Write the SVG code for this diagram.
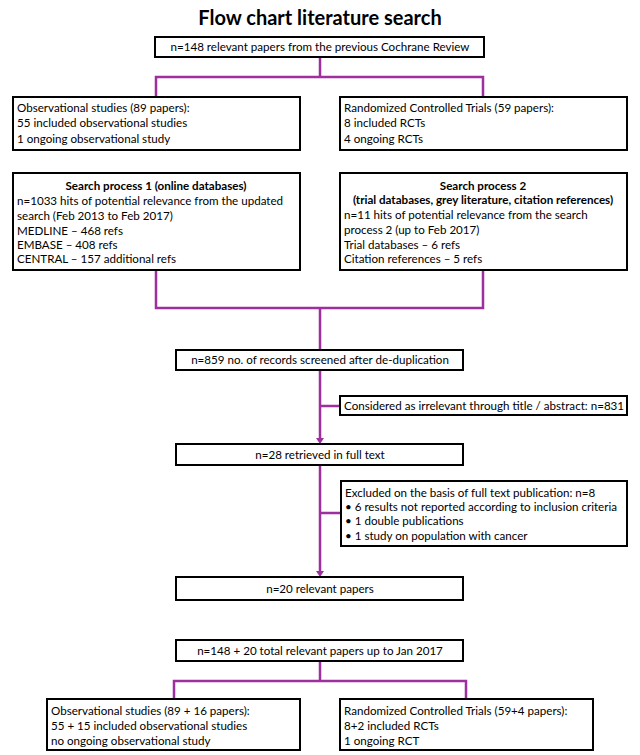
<svg xmlns="http://www.w3.org/2000/svg" width="640" height="755" viewBox="0 0 640 755">
<style>
.box{fill:#fff;stroke:#000;stroke-width:2}
.t{font-family:Lato,"Liberation Sans",sans-serif;font-size:11.6px;fill:#000}
.c{text-anchor:middle}
.b{font-weight:bold}
.ln{fill:none;stroke:#9e2f9e;stroke-width:2.5}
.ah{fill:#9e2f9e}
</style>
<rect width="640" height="755" fill="#fff"/>
<text x="320" y="25" class="t c b" style="font-size:20px">Flow chart literature search</text>
<g id="connectors">
<path class="ln" d="M320,57 V77 M156,97 V77 H483 V97"/>
<path class="ln" d="M156,270 V308 H483 V270 M320,308 V350"/>
<path class="ln" d="M320,370 V440 M320,406 H340"/>
<path class="ln" d="M320,465 V573 M320,513 H341"/>
<path class="ln" d="M320,661 V681 M174,699 V681 H466 V699"/>
<path class="ah" d="M316,438 L324,438 L320,444 z"/>
<path class="ah" d="M316,571 L324,571 L320,577 z"/>
</g>
<g id="n1">
<rect class="box" x="155" y="37" width="329" height="20"/>
<text x="320" y="51" class="t c">n=148 relevant papers from the previous Cochrane Review</text>
</g>
<g id="n2">
<rect class="box" x="13" y="97" width="287" height="53"/>
<text class="t" x="17" y="112">Observational studies (89 papers):</text>
<text class="t" x="17" y="127">55 included observational studies</text>
<text class="t" x="17" y="143">1 ongoing observational study</text>
</g>
<g id="n3">
<rect class="box" x="340" y="97" width="287" height="53"/>
<text class="t" x="344" y="112">Randomized Controlled Trials (59 papers):</text>
<text class="t" x="344" y="127">8 included RCTs</text>
<text class="t" x="344" y="143">4 ongoing RCTs</text>
</g>
<g id="n4">
<rect class="box" x="13" y="173" width="287" height="97"/>
<text class="t c b" x="156" y="190">Search process 1 (online databases)</text>
<text class="t" x="17" y="205">n=1033 hits of potential relevance from the updated</text>
<text class="t" x="17" y="220">search (Feb 2013 to Feb 2017)</text>
<text class="t" x="17" y="235">MEDLINE – 468 refs</text>
<text class="t" x="17" y="249">EMBASE – 408 refs</text>
<text class="t" x="17" y="263">CENTRAL – 157 additional refs</text>
</g>
<g id="n5">
<rect class="box" x="340" y="173" width="287" height="97"/>
<text class="t c b" x="483" y="190">Search process 2</text>
<text class="t c b" x="483" y="204">(trial databases, grey literature, citation references)</text>
<text class="t" x="344" y="219">n=11 hits of potential relevance from the search</text>
<text class="t" x="344" y="234">process 2 (up to Feb 2017)</text>
<text class="t" x="344" y="249">Trial databases – 6 refs</text>
<text class="t" x="344" y="263">Citation references – 5 refs</text>
</g>
<g id="n6">
<rect class="box" x="176" y="350" width="287" height="20"/>
<text class="t c" x="320" y="364">n=859 no. of records screened after de-duplication</text>
</g>
<g id="n7">
<rect class="box" x="340" y="396" width="287" height="19"/>
<text class="t" x="344" y="410">Considered as irrelevant through title / abstract: n=831</text>
</g>
<g id="n8">
<rect class="box" x="176" y="444" width="287" height="21"/>
<text class="t c" x="320" y="459">n=28 retrieved in full text</text>
</g>
<g id="n9">
<rect class="box" x="341" y="481" width="286" height="65"/>
<text class="t" x="345" y="497">Excluded on the basis of full text publication: n=8</text>
<text class="t" x="345" y="511">• 6 results not reported according to inclusion criteria</text>
<text class="t" x="345" y="525">• 1 double publications</text>
<text class="t" x="345" y="540">• 1 study on population with cancer</text>
</g>
<g id="n10">
<rect class="box" x="176" y="577" width="287" height="23"/>
<text class="t c" x="320" y="593">n=20 relevant papers</text>
</g>
<g id="n11">
<rect class="box" x="176" y="640" width="287" height="21"/>
<text class="t c" x="320" y="655">n=148 + 20 total relevant papers up to Jan 2017</text>
</g>
<g id="n12">
<rect class="box" x="47" y="699" width="253" height="51"/>
<text class="t" x="51" y="715">Observational studies (89 + 16 papers):</text>
<text class="t" x="51" y="730">55 + 15 included observational studies</text>
<text class="t" x="51" y="745">no ongoing observational study</text>
</g>
<g id="n13">
<rect class="box" x="340" y="699" width="253" height="51"/>
<text class="t" x="344" y="715">Randomized Controlled Trials (59+4 papers):</text>
<text class="t" x="344" y="730">8+2 included RCTs</text>
<text class="t" x="344" y="745">1 ongoing RCT</text>
</g>
</svg>
